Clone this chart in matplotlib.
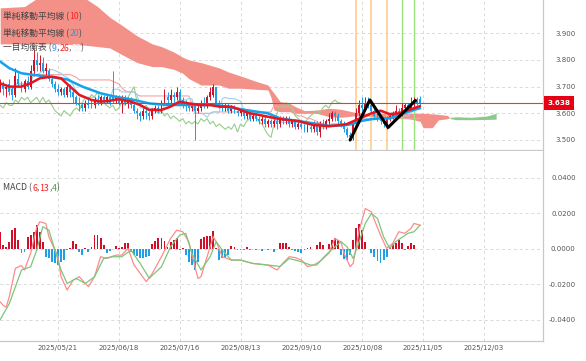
import numpy as np
import pandas as pd
import matplotlib
matplotlib.use('Agg')
import matplotlib.pyplot as plt
from matplotlib.transforms import blended_transform_factory

FONT = ['Noto Sans CJK JP', 'DejaVu Sans']

# ── データ（チャートから読み取り） ─────────────────────────────
dates = ['2025/05/21', '2025/06/18', '2025/07/16', '2025/08/13',
         '2025/09/10', '2025/10/08', '2025/11/05', '2025/12/03']
date_idx = [19, 39, 59, 79, 99, 119, 139, 159]

opens = [3.69, 3.71, 3.69, 3.71, 3.69, 3.67, 3.73, 3.71, 3.69, 3.72,
         3.70, 3.76, 3.80, 3.78, 3.79, 3.76, 3.76, 3.73, 3.71, 3.69,
         3.68, 3.69, 3.67, 3.70, 3.68, 3.66, 3.64, 3.63, 3.62, 3.64,
         3.635, 3.63, 3.65, 3.64, 3.66, 3.65, 3.66, 3.67, 3.65, 3.66,
         3.64, 3.66, 3.64, 3.65, 3.63, 3.61, 3.60, 3.59, 3.61, 3.60,
         3.59, 3.61, 3.62, 3.61, 3.64, 3.66, 3.65, 3.67, 3.66, 3.68,
         3.65, 3.64, 3.63, 3.62, 3.63, 3.61, 3.62, 3.64, 3.63, 3.66,
         3.67, 3.70, 3.64, 3.63, 3.62, 3.63, 3.61, 3.62, 3.61, 3.60,
         3.61, 3.59, 3.60, 3.58, 3.59, 3.58, 3.57, 3.58, 3.56, 3.57,
         3.56, 3.57, 3.56, 3.58, 3.57, 3.58, 3.56, 3.57, 3.55, 3.56,
         3.55, 3.54, 3.55, 3.54, 3.56, 3.53, 3.56, 3.55, 3.57, 3.58,
         3.60, 3.59, 3.57, 3.56, 3.54, 3.52, 3.51, 3.56, 3.60, 3.63,
         3.62, 3.64, 3.63, 3.61, 3.59, 3.58, 3.57, 3.56, 3.58, 3.59,
         3.60, 3.61, 3.60, 3.62, 3.63, 3.62, 3.64, 3.65, 3.655]
highs = [3.73, 3.72, 3.71, 3.73, 3.70, 3.77, 3.75, 3.72, 3.73, 3.74,
         3.78, 3.84, 3.83, 3.82, 3.81, 3.79, 3.77, 3.74, 3.72, 3.71,
         3.70, 3.70, 3.71, 3.71, 3.69, 3.67, 3.66, 3.64, 3.65, 3.66,
         3.65, 3.66, 3.67, 3.67, 3.67, 3.67, 3.67, 3.76, 3.67, 3.67,
         3.67, 3.67, 3.66, 3.66, 3.64, 3.62, 3.61, 3.62, 3.62, 3.61,
         3.62, 3.63, 3.63, 3.65, 3.69, 3.68, 3.69, 3.68, 3.70, 3.69,
         3.66, 3.65, 3.64, 3.64, 3.64, 3.63, 3.65, 3.66, 3.67, 3.70,
         3.71, 3.70, 3.65, 3.64, 3.64, 3.64, 3.63, 3.63, 3.62, 3.62,
         3.62, 3.61, 3.61, 3.60, 3.60, 3.59, 3.59, 3.59, 3.58, 3.58,
         3.58, 3.58, 3.59, 3.59, 3.59, 3.59, 3.58, 3.58, 3.57, 3.57,
         3.56, 3.56, 3.56, 3.57, 3.57, 3.57, 3.58, 3.58, 3.60, 3.61,
         3.61, 3.60, 3.58, 3.57, 3.55, 3.53, 3.57, 3.62, 3.65, 3.66,
         3.66, 3.66, 3.64, 3.62, 3.60, 3.59, 3.58, 3.59, 3.60, 3.61,
         3.63, 3.62, 3.64, 3.64, 3.64, 3.66, 3.66, 3.66, 3.665]
lows = [3.68, 3.67, 3.66, 3.67, 3.65, 3.66, 3.70, 3.68, 3.68, 3.69,
        3.69, 3.74, 3.76, 3.76, 3.75, 3.74, 3.72, 3.70, 3.68, 3.67,
        3.67, 3.66, 3.66, 3.66, 3.64, 3.63, 3.61, 3.61, 3.61, 3.62,
        3.62, 3.62, 3.63, 3.63, 3.64, 3.64, 3.63, 3.64, 3.64, 3.63,
        3.60, 3.63, 3.62, 3.62, 3.60, 3.58, 3.57, 3.58, 3.58, 3.575,
        3.58, 3.60, 3.60, 3.60, 3.63, 3.64, 3.64, 3.64, 3.65, 3.64,
        3.62, 3.61, 3.61, 3.61, 3.50, 3.60, 3.61, 3.62, 3.62, 3.65,
        3.66, 3.63, 3.62, 3.61, 3.61, 3.60, 3.60, 3.60, 3.59, 3.59,
        3.58, 3.58, 3.57, 3.57, 3.57, 3.56, 3.56, 3.55, 3.55, 3.55,
        3.55, 3.54, 3.55, 3.56, 3.56, 3.55, 3.55, 3.54, 3.54, 3.54,
        3.53, 3.53, 3.53, 3.53, 3.52, 3.51, 3.54, 3.54, 3.56, 3.57,
        3.57, 3.56, 3.55, 3.53, 3.51, 3.50, 3.50, 3.55, 3.59, 3.61,
        3.61, 3.62, 3.60, 3.58, 3.57, 3.56, 3.55, 3.54, 3.57, 3.58,
        3.59, 3.59, 3.59, 3.61, 3.61, 3.61, 3.62, 3.63, 3.63]
closes = [3.72, 3.69, 3.70, 3.68, 3.67, 3.74, 3.71, 3.70, 3.72, 3.70,
          3.76, 3.80, 3.78, 3.79, 3.76, 3.77, 3.73, 3.71, 3.69, 3.68,
          3.69, 3.67, 3.70, 3.68, 3.66, 3.64, 3.63, 3.62, 3.64, 3.63,
          3.63, 3.65, 3.64, 3.66, 3.65, 3.66, 3.64, 3.65, 3.66, 3.64,
          3.66, 3.64, 3.65, 3.63, 3.61, 3.60, 3.59, 3.61, 3.60, 3.59,
          3.61, 3.62, 3.61, 3.64, 3.66, 3.65, 3.67, 3.66, 3.68, 3.65,
          3.64, 3.63, 3.62, 3.63, 3.61, 3.62, 3.64, 3.63, 3.66, 3.68,
          3.70, 3.64, 3.63, 3.62, 3.63, 3.61, 3.62, 3.61, 3.60, 3.61,
          3.59, 3.60, 3.58, 3.59, 3.58, 3.57, 3.58, 3.56, 3.57, 3.56,
          3.57, 3.56, 3.58, 3.57, 3.58, 3.56, 3.57, 3.55, 3.56, 3.55,
          3.54, 3.55, 3.54, 3.56, 3.53, 3.56, 3.55, 3.57, 3.58, 3.60,
          3.59, 3.57, 3.56, 3.54, 3.52, 3.51, 3.56, 3.60, 3.63, 3.62,
          3.64, 3.63, 3.61, 3.59, 3.58, 3.57, 3.56, 3.58, 3.59, 3.60,
          3.61, 3.60, 3.62, 3.63, 3.62, 3.64, 3.65, 3.64, 3.638]

sma10_idx = [0, 3, 7, 10, 13, 17, 20, 23, 26, 30, 33, 36, 39, 43, 46, 49, 53,
             56, 59, 62, 66, 69, 72, 76, 79, 82, 85, 89, 92, 98, 103, 108, 112,
             114, 117, 122, 125, 128, 131, 136, 138]
sma10 = [3.7125, 3.700, 3.700, 3.7125, 3.731, 3.7375, 3.731, 3.700, 3.669,
         3.650, 3.644, 3.647, 3.6525, 3.644, 3.631, 3.6125, 3.6125, 3.625,
         3.644, 3.637, 3.631, 3.631, 3.625, 3.625, 3.6125, 3.600, 3.594,
         3.585, 3.578, 3.571, 3.556, 3.552, 3.556, 3.560, 3.575, 3.600,
         3.610, 3.597, 3.600, 3.619, 3.627]

sma20_idx = [0, 3, 7, 11, 16, 22, 27, 33, 38, 44, 49, 55, 60, 66, 71, 77, 82,
             88, 92, 98, 103, 108, 114, 118, 122, 125, 128, 131, 136, 138]
sma20 = [3.794, 3.769, 3.750, 3.744, 3.737, 3.727, 3.700, 3.675, 3.662,
         3.650, 3.637, 3.631, 3.631, 3.631, 3.631, 3.619, 3.610, 3.600,
         3.581, 3.571, 3.5625, 3.552, 3.556, 3.570, 3.578, 3.581, 3.581,
         3.594, 3.6125, 3.619]

# 一目均衡表の雲（先行スパン）
cloud_idx = [0, 8, 12, 20, 28, 32, 36, 40, 45, 50, 53, 57, 60, 62, 66, 72,
             75, 79, 84, 88, 89, 90, 92, 95, 97, 100, 104, 108, 112, 116,
             120, 124, 128, 131, 135, 138, 139, 142, 144, 147, 148, 150, 155,
             160, 163]
span_b = [3.995, 4.000, 4.030, 4.030, 4.030, 4.000, 3.960, 3.930, 3.890,
          3.860, 3.850, 3.830, 3.810, 3.800, 3.790, 3.770, 3.755, 3.740,
          3.720, 3.706, 3.690, 3.675, 3.644, 3.638, 3.625, 3.610, 3.612,
          3.619, 3.615, 3.605, 3.600, 3.600, 3.600, 3.602, 3.600, 3.600,
          3.600, 3.598, 3.596, 3.592, 3.580, 3.576, 3.576, 3.577, 3.578]
span_a = [3.860, 3.860, 3.860, 3.860, 3.855, 3.850, 3.845, 3.820, 3.790,
          3.775, 3.775, 3.765, 3.750, 3.730, 3.706, 3.706, 3.694, 3.694,
          3.690, 3.6875, 3.660, 3.612, 3.606, 3.606, 3.600, 3.600, 3.600,
          3.5875, 3.585, 3.590, 3.590, 3.585, 3.585, 3.585, 3.578, 3.570,
          3.546, 3.546, 3.575, 3.580, 3.585, 3.587, 3.585, 3.590, 3.600]

# 描き込み（縦線・N字）
orange_marks = [117, 122, 127]
green_marks = [132, 136]
zigzag_idx = [115, 121.5, 127.5, 136.5]
zigzag_val = [3.50, 3.65, 3.547, 3.648]

# MACD (6,13,4)
macd_idx = [0, 1, 2, 3, 5, 7, 8, 10, 12, 13, 15, 16, 19, 20, 22, 24, 26, 28,
            29, 31, 33, 35, 38, 40, 42, 44, 46, 48, 50, 53, 56, 58, 60, 62,
            65, 66, 68, 70, 71, 73, 76, 79, 83, 88, 91, 93, 95, 97, 99, 101,
            103, 105, 108, 110, 112, 113, 115, 116, 118, 120, 122, 123, 125,
            127, 129, 131, 133, 135, 136, 138]
macd_line = [-0.030, -0.032, -0.033, -0.027, -0.011, -0.0095, -0.012,
             -0.0026, 0.012, 0.0152, 0.0143, 0.0068, -0.0045, -0.0158,
             -0.0233, -0.0177, -0.0158, -0.0196, -0.0214, -0.0158, -0.0045,
             -0.0055, -0.0036, -0.0036, 0.0002, -0.0092, -0.0139, -0.0186,
             -0.0139, -0.0045, 0.0058, 0.0105, 0.0096, 0.0039, -0.0168,
             -0.0158, -0.0045, 0.0068, 0.0040, -0.0045, -0.0064, -0.0064,
             -0.0083, -0.0092, -0.0120, -0.0080, -0.0045, -0.0050, -0.0064,
             -0.0101, -0.0092, -0.0073, -0.0026, 0.0058, 0.0039, -0.0026,
             -0.0101, -0.0083, 0.0105, 0.0227, 0.0208, 0.0162, 0.0077,
             0.0002, 0.0030, 0.0096, 0.0087, 0.0115, 0.0143, 0.0133]
signal_idx = [0, 3, 7, 10, 12, 14, 16, 18, 20, 22, 25, 28, 31, 34, 37, 40,
              43, 46, 49, 53, 56, 59, 61, 63, 66, 69, 71, 73, 76, 79, 83, 88,
              92, 95, 99, 102, 104, 107, 112, 114, 116, 118, 120, 122, 124,
              126, 128, 130, 134, 136, 138]
signal_line = [-0.040, -0.031, -0.012, -0.0102, -0.0008, 0.0124, 0.0105,
               -0.0008, -0.012, -0.0196, -0.0168, -0.0196, -0.0158, -0.0055,
               -0.0045, -0.0045, -0.0008, -0.0083, -0.0167, -0.0102, 0.0011,
               0.0077, 0.0087, -0.0026, -0.012, -0.0045, 0.004, -0.0008,
               -0.0064, -0.0064, -0.0083, -0.0092, -0.010, -0.0055, -0.0073,
               -0.0092, -0.0092, -0.0036, 0.004, 0.0011, -0.0055, 0.004,
               0.0143, 0.0199, 0.0171, 0.0068, 0.0002, 0.004, 0.0087, 0.0096,
               0.0133]
macd_hist = [0.0096, 0.0020, 0.0010, 0.0040, 0.0105, 0.0115, 0.0050, -0.0026,
             -0.0017, 0.0068, 0.0077, 0.0096, 0.0133, 0.0096, 0.0040, -0.0045,
             -0.0055, -0.0073, -0.0083, -0.0092, -0.0073, -0.0064, -0.0008,
             0.0006, 0.0045, 0.0026, -0.0017, -0.0036, 0.0006, -0.0017,
             0.0008, 0.0077, 0.0077, 0.0058, 0.0020, -0.0026, -0.0011,
             -0.0004, 0.0015, 0.0006, 0.0008, 0.0030, 0.0030, -0.0017,
             -0.0036, -0.0040, -0.0050, -0.0050, -0.0045, -0.0040, 0.0026,
             0.0045, 0.0060, 0.0060, 0.0045, 0.0011, 0.0040, 0.0049, 0.0060,
             -0.0008, 0.0002, -0.0036, -0.0073, -0.0092, -0.0120, -0.0073,
             0.0053, 0.0068, 0.0071, 0.0073, 0.0102, 0.0005, -0.0064, -0.0055,
             -0.0050, -0.0036, 0.0015, 0.0008, -0.0008, -0.0008, -0.0008,
             0.0008, -0.0008, -0.0004, -0.0008, -0.0004, -0.0011, -0.0004,
             -0.0008, -0.0004, -0.0017, -0.0004, 0.0030, 0.0030, 0.0030,
             0.0008, -0.0008, -0.0011, -0.0017, -0.0023, -0.0008, 0.0002,
             0.0008, -0.0004, 0.0020, 0.0040, 0.0020, -0.0004, 0.0026, 0.0050,
             0.0060, 0.0050, -0.0036, -0.0060, -0.0064, -0.0036, 0.0050,
             0.0115, 0.0140, 0.0105, 0.0040, -0.0004, -0.0026, -0.0049,
             -0.0068, -0.0083, -0.0064, -0.0049, 0.0011, 0.0026, 0.0034,
             0.0050, 0.0034, -0.0008, 0.0015, 0.0034, 0.0020, -0.0004, -0.0004]

# ── 色 ─────────────────────────────────────────────────────────
UP = '#d0102a'
DOWN = '#1ea0e6'
GRID = '#d9d9d9'
TXT = '#555555'

# ── 図 ─────────────────────────────────────────────────────────
fig = plt.figure(figsize=(5.86, 3.61), dpi=100, facecolor='white')
W, H = 586, 361
ax = fig.add_axes([0, 1 - 150 / H, 543 / W, 150 / H])
ax2 = fig.add_axes([0, 20 / H, 543 / W, 190 / H])

x = np.arange(len(closes))
o = np.array(opens); c = np.array(closes)
hi = np.array(highs); lo = np.array(lows)

# 雲
cx = np.array(cloud_idx, float)
sa = np.array(span_a); sb = np.array(span_b)
ax.fill_between(cx, sa, sb, where=sb >= sa, interpolate=True,
                color='#f39189', lw=0, zorder=1)
ax.fill_between(cx, sa, sb, where=sa > sb, interpolate=True,
                color='#8cc98c', lw=0, zorder=1)

# 転換線・基準線・遅行スパン
hl = pd.DataFrame({'h': hi, 'l': lo})
tenkan = (hl.h.rolling(9, min_periods=1).max() + hl.l.rolling(9, min_periods=1).min()) / 2
kijun = (hl.h.rolling(26, min_periods=1).max() + hl.l.rolling(26, min_periods=1).min()) / 2
ax.plot(x, kijun, color='#f5a3a3', lw=0.8, zorder=2)
ax.plot(x, tenkan, color='#9ad3f2', lw=0.8, zorder=2)
ax.plot(x - 26, c, color='#98cc8e', lw=0.8, zorder=2)

# 縦線
for m in orange_marks:
    ax.axvline(m, color='#ffc784', lw=1.1, zorder=2)
for m in green_marks:
    ax.axvline(m, color='#9be27a', lw=1.0, zorder=2)

# ローソク足
up = c >= o
cols = np.where(up, UP, DOWN)
ax.vlines(x, lo, hi, colors=cols, lw=0.7, zorder=3)
body = np.maximum(np.abs(c - o), 0.002)
ax.bar(x, body, bottom=np.minimum(o, c), width=0.62, color=cols, lw=0, zorder=3)

# 移動平均
ax.plot(sma20_idx, sma20, color='#12a3ea', lw=1.8, zorder=4, solid_capstyle='round')
ax.plot(sma10_idx, sma10, color='#e8141e', lw=1.8, zorder=5, solid_capstyle='round')

# 現在値ライン
last = closes[-1]
ax.axhline(last, color='#e8383d', lw=0.8, zorder=4)
tr = blended_transform_factory(ax.transAxes, ax.transData)
ax.text(1 + 16 / 543, last, f'{last:.3f}', transform=tr, ha='center', va='center',
        fontsize=5.2, color='white', fontweight='bold', clip_on=False,
        bbox=dict(boxstyle='square,pad=0.55', fc='#e60012', ec='none'), zorder=10)

# N字
ax.plot(zigzag_idx, zigzag_val, color='black', lw=2.2, zorder=8,
        solid_capstyle='round', solid_joinstyle='round')

# MACD
hcol = np.where(np.array(macd_hist) >= 0, UP, DOWN)
ax2.bar(x, macd_hist, width=0.62, color=hcol, lw=0, zorder=2)
ax2.plot(macd_idx, macd_line, color='#ff8a8a', lw=0.9, zorder=3)
ax2.plot(signal_idx, signal_line, color='#7cc67c', lw=0.9, zorder=3)

# ── 軸 ─────────────────────────────────────────────────────────
for a in (ax, ax2):
    a.set_xlim(-0.06, 178.4)
    a.set_xticks(date_idx)
    a.grid(True, color=GRID, linestyle=(0, (3, 3)), lw=0.7)
    a.set_axisbelow(True)
    a.yaxis.tick_right()
    a.tick_params(axis='both', length=0, labelsize=5, labelcolor=TXT)
    a.tick_params(axis='y', pad=23.5)
    for s in ('top', 'left'):
        a.spines[s].set_visible(False)
    for s in ('bottom', 'right'):
        a.spines[s].set_color('#c8c8c8')
        a.spines[s].set_linewidth(0.9)

ax.set_ylim(3.4625, 4.0245)
pt = [3.5, 3.6, 3.7, 3.8, 3.9]
ax.set_yticks(pt)
ax.set_yticklabels([f'{v:.3f}' for v in pt], ha='right')
ax.tick_params(axis='x', labelbottom=False)

ax2.set_ylim(-0.0521, 0.0552)
mt = [-0.04, -0.02, 0.0, 0.02, 0.04]
ax2.set_yticks(mt)
ax2.set_yticklabels([f'{v:.4f}' for v in mt], ha='right')
ax2.set_xticklabels(dates)
ax2.tick_params(axis='x', pad=3)


# ── 凡例テキスト ───────────────────────────────────────────────
def colored_text(a, x0, y0, parts, size=6.3):
    t = a.text(x0, y0, parts[0][0], color=parts[0][1], transform=a.transAxes,
               fontsize=size, va='center', ha='left', family=FONT, zorder=20)
    for s, col in parts[1:]:
        t = a.annotate(s, xy=(1, 0), xycoords=t, color=col, fontsize=size,
                       va='bottom', ha='left', family=FONT, zorder=20)


DK = '#444444'
colored_text(ax, 0.006, 1 - 16 / 150, [('単純移動平均線 (', DK), ('10', '#ff2020'), (')', DK)])
colored_text(ax, 0.006, 1 - 33 / 150, [('単純移動平均線 (', DK), ('20', '#1ea0e6'), (')', DK)])
colored_text(ax, 0.006, 1 - 48 / 150, [('一目均衡表 (', DK), ('9', '#3a8fe0'), (',', DK),
                                       ('26', '#ff2020'), (',', DK), ('52', '#f2f2f2'), (')', DK)])
colored_text(ax2, 0.006, (341 - 188) / 190, [('MACD (', DK), ('6', '#ff2020'), (',', DK),
                                             ('13', '#ff2020'), (',', DK), ('4', '#3aa33a'), (')', DK)])

fig.savefig('out.png', dpi=100, facecolor='white')
